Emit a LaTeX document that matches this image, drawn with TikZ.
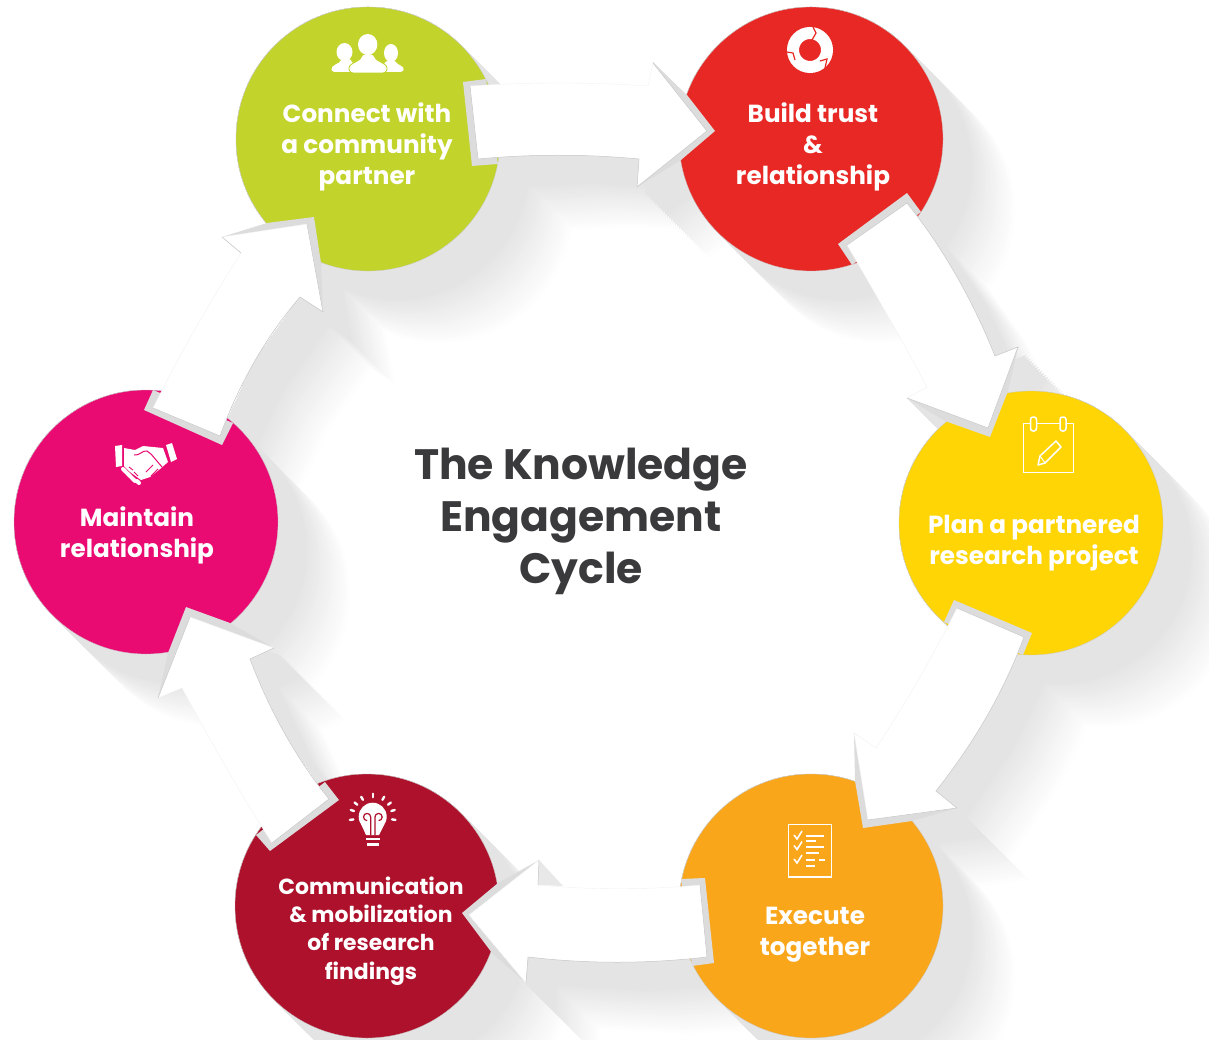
\documentclass[tikz,border=0pt]{standalone}
\usepackage{fontspec}
\setmainfont{Poppins}
\usetikzlibrary{calc}
\definecolor{cgreen}{HTML}{C2D42B}
\definecolor{cred}{HTML}{E82825}
\definecolor{cyellow}{HTML}{FFD505}
\definecolor{corange}{HTML}{FAA61A}
\definecolor{ccrimson}{HTML}{AE112B}
\definecolor{cpink}{HTML}{E90A72}
\definecolor{ctitle}{HTML}{3A3A3C}
\definecolor{notchgrey}{HTML}{DCDCDC}
\definecolor{edgegrey}{HTML}{C6C6C6}
\definecolor{ghostgrey}{HTML}{F2F2F2}
\tikzset{
  bubble/.style={circle,minimum size=264pt,inner sep=0pt,draw=black!22,line width=.3pt},
  label/.style={white,font=\bfseries\fontsize{24.7}{31}\selectfont,align=center,inner sep=0pt},
  labelsmall/.style={white,font=\bfseries\fontsize{21.9}{28.4}\selectfont,align=center,inner sep=0pt},
  heading/.style={ctitle,font=\bfseries\fontsize{42.5}{52}\selectfont,align=center,inner sep=0pt},
  whitearrow/.style={fill=white,draw=ghostgrey,line width=.4pt,line join=miter},
  arrowedge/.style={draw=edgegrey,line width=.5pt},
  iconline/.style={draw=white,line width=1.5pt},
  icon/.style={fill=white}
}
\newcommand\castcircle[2]{%
    \fill[black!\p] ($(#1,#2)+(-93.3,93.3)$) -- ($(#1,#2)+(93.3,-93.3)$)
      -- ($(#1,#2)+(93.3+\L,-93.3+\L)$) -- ($(#1,#2)+(-93.3+\L,93.3+\L)$) -- cycle
      ($(#1,#2)+(\L,\L)$) circle (132) (#1,#2) circle (132);
  }
\newcommand\castpoly[6]{%
    \fill[black!\p] (#1)--(#2)--(#3)--(#4)--(#5)--(#6)
      --([shift={(\L,\L)}]#6)--([shift={(\L,\L)}]#5)--([shift={(\L,\L)}]#4)
      --([shift={(\L,\L)}]#3)--([shift={(\L,\L)}]#2)--([shift={(\L,\L)}]#1)--cycle;
  }
% arrow outlines, with their curved sides as true parabolic bows
\newcommand\bowA{.. controls (529,82) and (589,82) .. (648,86)}
\newcommand\bowAb{.. controls (585,154) and (532,154) .. (478,159)}
\newcommand\bowB{.. controls (944,249) and (973,301) .. (995,356)}
\newcommand\bowBb{.. controls (902,340) and (875,293) .. (847,245)}
\newcommand\bowC{.. controls (1003,694) and (973,744) .. (936,791)}
\newcommand\bowCb{.. controls (906,703) and (933,656) .. (957,608)}
\newcommand\bowD{.. controls (647,964) and (587,964) .. (528,957)}
\newcommand\bowDb{.. controls (592,890) and (646,890) .. (700,885)}
\newcommand\bowE{.. controls (295,757) and (269,709) .. (250,659)}
\newcommand\bowEb{.. controls (211,742) and (240,793) .. (272,843)}
\newcommand\bowF{.. controls (239,384) and (265,338) .. (300,297)}
\newcommand\bowFb{.. controls (209,303) and (180,354) .. (153,408)}
\begin{document}
\begin{tikzpicture}[x=1pt,y=-1pt]
\useasboundingbox (0,0) rectangle (1209,1040);
\clip (0,0) rectangle (1209,1040);
\fill[white] (0,0) rectangle (1209,1040);

% long cast shadows: lightest and longest first, so that overlaps do not darken
\foreach \L [evaluate=\L as \p using {min(10.5,10.5*(74-\L)/46)}] in {74,72,...,8}{
  \castpoly{653,63}{707,131}{637,187}{639,159}{563,155}{478,159}
  \castpoly{907,203}{957,276}{995,356}{1018,347}{988,428}{907,398}
  \castpoly{1024,637}{986,717}{936,791}{957,808}{868,820}{863,828}
  \castpoly{700,885}{707,957}{617,962}{528,957}{526,983}{526,983}
  \castpoly{329,799}{283,732}{250,659}{274,648}{274,648}{190,617}
  \castpoly{220,436}{254,362}{300,297}{323,312}{323,312}{307,224}
  \foreach \cx/\cy in {368/139,811/139,1031/523,811/906,367/906,146/522}{\castcircle{\cx}{\cy}}
}
\fill[black!9] (539,860)--(538,885)--(563,886)--cycle;

% discs
\node[bubble,fill=cgreen] (connect) at (368,139) {};
\node[bubble,fill=cred] (build) at (811,139) {};
\node[bubble,fill=cyellow] (plan) at (1031,523) {};
\node[bubble,fill=corange] (execute) at (811,906) {};
\node[bubble,fill=ccrimson] (comm) at (367,906) {};
\node[bubble,fill=cpink] (maintain) at (146,522) {};

% notches where the arrows bite the discs
\fill[notchgrey] (486,79)--(463,82)--(472,166)--(498,164)--cycle;
\fill[notchgrey] (715,131)--(687,95)--(653,63)--(637,187)--(681,160)--cycle;
\fill[notchgrey] (907,193)--(838,244)--(852,265)--(921,212)--cycle;
\fill[notchgrey] (990,437)--(1008,391)--(1018,347)--(907,398)--(945,421)--cycle;
\fill[notchgrey] (954,600)--(1032,633)--(1023,655)--(944,622)--cycle;
\fill[notchgrey] (863,828)--(855,781)--(854,733)--(957,808)--(912,821)--cycle;
\fill[notchgrey] (705,878)--(714,963)--(692,966)--(681,879)--cycle;
\fill[notchgrey] (462,913)--(498,883)--(539,860)--(526,983)--(492,953)--cycle;
\fill[notchgrey] (339,800)--(270,851)--(256,835)--(325,782)--cycle;
\fill[notchgrey] (186,607)--(230,623)--(274,648)--(158,698)--(168,653)--cycle;
\fill[notchgrey] (144,410)--(222,445)--(233,423)--(153,390)--cycle;
\fill[notchgrey] (314,217)--(321,263)--(323,312)--(222,237)--(267,223)--cycle;

% arrows
\draw[whitearrow] (470,86) \bowA -- (653,63) -- (707,131) -- (637,187) -- (639,159) \bowAb -- cycle;
\draw[arrowedge] (653,63) -- (707,131) -- (637,187) -- (639,159) \bowAb -- (470,86);
\draw[whitearrow] (907,203) \bowB -- (1018,347) -- (988,428) -- (907,398) -- (927,387) \bowBb -- cycle;
\draw[arrowedge] (907,203) \bowB -- (1018,347) -- (988,428) -- (907,398);
\draw[arrowedge] (847,245) -- (907,203);
\draw[whitearrow] (957,608) -- (1024,637) \bowC -- (957,808) -- (868,820) -- (854,733) -- (876,748) \bowCb -- cycle;
\draw[arrowedge] (957,608) -- (1024,637) \bowC -- (957,808) -- (868,820);
\draw[whitearrow] (700,885) -- (707,957) \bowD -- (526,983) -- (469,915) -- (539,860) -- (538,885) \bowDb -- cycle;
\draw[arrowedge] (700,885) -- (707,957) \bowD -- (526,983);
\draw[arrowedge] (539,860) -- (538,885);
\draw[whitearrow] (329,799) \bowE -- (274,648) -- (190,617) -- (158,698) -- (182,688) \bowEb -- cycle;
\draw[arrowedge] (272,843) -- (329,799) \bowE -- (274,648);
\draw[arrowedge] (190,617) -- (158,698);
\draw[whitearrow] (153,408) -- (220,436) \bowF -- (323,312) -- (307,224) -- (222,237) -- (241,253) \bowFb -- cycle;
\draw[arrowedge] (153,408) -- (220,436) \bowF -- (323,312) -- (307,224);
\draw[arrowedge] (222,237) -- (241,253);

% labels
\node[label] (tconnect) at (367,147) {Connect with\\a community\\partner};
\node[label] (tbuild) at (813,147) {Build trust\\\&\\relationship};
\node[label] (tplan) at (1034,543) {Plan a partnered\\research project};
\node[label] (texecute) at (815,935) {Execute\\together};
\node[labelsmall] (tcomm) at (371,931) {Communication\\\& mobilization\\of research\\findings};
\node[label] (tmaintain) at (137,535) {Maintain\\relationship};
\node[heading] (title) at (581,521) {The Knowledge\\Engagement\\Cycle};

% people icon
\fill[icon] (344.5,52) ellipse (8 and 9);
\fill[icon] (391,53) ellipse (7 and 9);
\fill[icon,rounded corners=2pt] (332,72) .. controls (330,65) and (340,64) .. (342,58) -- (350,58) .. controls (352,64) and (358,65) .. (360,72) -- cycle;
\fill[icon,rounded corners=2pt] (376,72) .. controls (377,66) and (384,65) .. (387,60) -- (395,60) .. controls (397,65) and (405,66) .. (403,72) -- cycle;
\draw[fill=white,draw=cgreen,line width=.9pt,rounded corners=3pt] (350,73) .. controls (347,63) and (360,62) .. (362,54) -- (374,54) .. controls (376,62) and (389,63) .. (386,73) -- cycle;
\fill[icon] (367.7,44.5) ellipse (9.7 and 10.5);

% cycle icon
\draw[draw=white,line width=12pt] (810,50) circle (17);
\draw[cred,line width=1.2pt] (813,27) -- (816,33) -- (812,40);
\draw[cred,line width=1.2pt] (787,52) -- (793,53) -- (795,60);
\draw[cred,line width=1.2pt] (820,61) -- (827,59) -- (825,68);

% calendar icon
\draw[iconline] (1023.5,423.5) rectangle (1073.5,472.5);
\draw[iconline,fill=cyellow,rounded corners=2.5pt] (1030.5,417) rectangle (1036.5,431);
\draw[iconline,fill=cyellow,rounded corners=2.5pt] (1060,417) rectangle (1066,431);
\draw[iconline,line join=round] (1038,465) -- (1040,456) -- (1056,441) -- (1061,447) -- (1045,463) -- cycle;
\draw[draw=white,line width=1pt] (1040,456) -- (1045,463);

% checklist icon
\draw[iconline] (788.5,824.5) rectangle (831.5,877);
\foreach \yy in {0,10.5,24}{
  \draw[draw=white,line width=1.6pt] (794,{835+\yy}) -- (797,{839+\yy}) -- (802,{831+\yy});
}
\foreach \xa/\xb/\yy in {806/824/836,806/816/841,806/824/847,806/819/853,806/815/860,819/825/860,806/815/866}{
  \draw[draw=white,line width=1.4pt] (\xa,\yy) -- (\xb,\yy);
}

% bulb icon
\fill[icon] (372.7,816.7) circle (14);
\fill[icon] (361,824) -- (384.5,824) -- (379,835) -- (366,835) -- cycle;
\draw[draw=white,line width=2.4pt] (366,839) -- (380,839);
\draw[draw=white,line width=2.6pt] (367,844.5) -- (379,844.5);
\draw[draw=ccrimson,line width=1.2pt] (370.7,835) -- (370.7,817) arc (0:-270:3.6);
\draw[draw=ccrimson,line width=1.2pt] (375,835) -- (375,817) arc (180:450:3.6);
\foreach \ang in {-90,-60,-120,-38,-142,-17,-163,8,172}{
  \draw[draw=white,line width=2.4pt,line cap=round] ($(372.7,816.7)+(\ang:19.5)$) -- ($(372.7,816.7)+(\ang:23)$);
}

% handshake icon
\fill[icon] (115,446) -- (122,445) -- (122,466) -- (116,467) -- cycle;
\fill[icon] (166,445) -- (172,443) -- (177,459) -- (171,462) -- cycle;
\fill[icon] (124,448) -- (135,450) -- (143,446) -- (163,448) -- (168,462) -- (160,469) -- (150,477) -- (141,480) -- (130,472) -- (124,466) -- cycle;
\draw[draw=white,line width=4pt,line cap=round] (123,469) -- (126,472);
\draw[draw=white,line width=4pt,line cap=round] (127,473) -- (131,477);
\draw[draw=white,line width=4pt,line cap=round] (132,478) -- (135,481);
\draw[draw=white,line width=4pt,line cap=round] (137,481) -- (139,483);
\draw[draw=cpink,line width=1pt] (134,455) .. controls (140,456) and (142,450) .. (147,451) -- (151,454) -- (162,467);
\draw[draw=cpink,line width=.9pt] (129,467) -- (133,470) (134,472) -- (138,476);
\draw[draw=cpink,line width=.9pt] (153,465) -- (146,472);
\draw[draw=cpink,line width=.9pt] (158,469) -- (151,476);
\end{tikzpicture}
\end{document}
